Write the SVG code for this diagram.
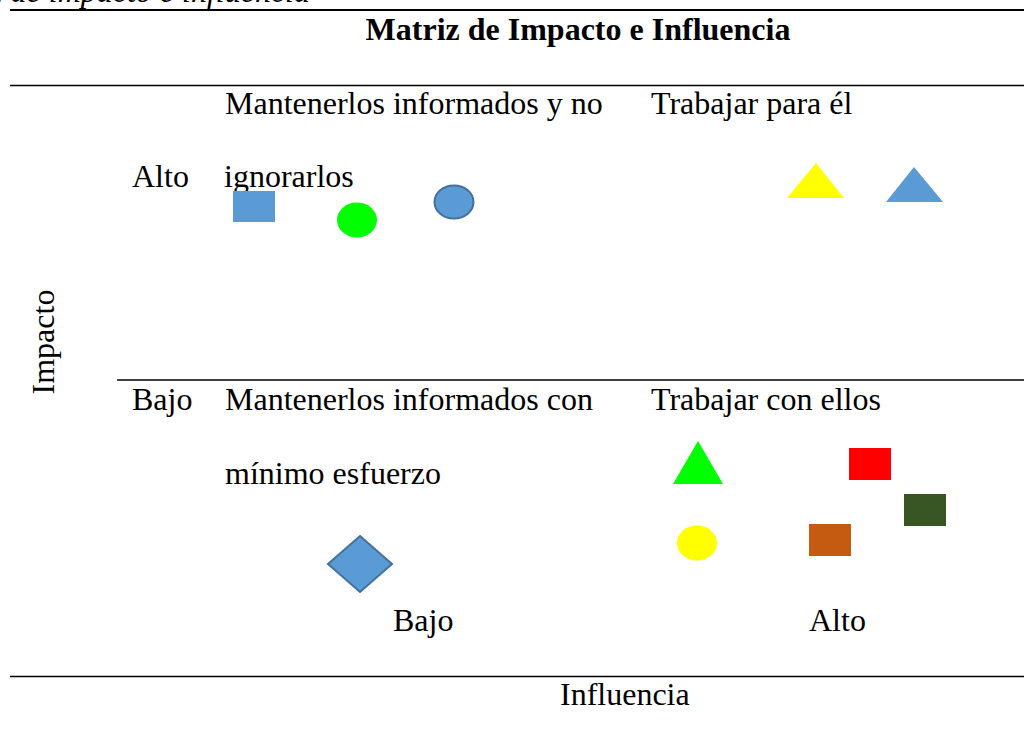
<svg xmlns="http://www.w3.org/2000/svg" width="1024" height="744" viewBox="0 0 1024 744">
<style>
.t{font-family:"Liberation Serif","Times New Roman",serif;font-size:32px;fill:#000}
.b{font-weight:bold}
.i{font-style:italic}
.rule{stroke:#000;fill:none}
.blue{fill:#5B9BD5}
.bs{stroke:#41719C;stroke-width:2}
</style>
<rect width="1024" height="744" fill="#fff"/>
<g id="caption"><text class="t i" x="310" y="2" text-anchor="end">Matriz de impacto e influencia</text></g>
<g id="rules">
<line class="rule" x1="10" y1="10" x2="1024" y2="10" stroke-width="2"/>
<line class="rule" x1="10" y1="85.5" x2="1024" y2="85.5" stroke-width="1.5"/>
<line class="rule" x1="117" y1="380" x2="1024" y2="380" stroke-width="1.5"/>
<line class="rule" x1="10" y1="676.5" x2="1024" y2="676.5" stroke-width="1.5"/>
</g>
<g id="title"><text class="t b" x="578" y="40" text-anchor="middle">Matriz de Impacto e Influencia</text></g>
<g id="labels">
<text class="t" x="225" y="114">Mantenerlos informados y no</text>
<text class="t" x="651" y="114">Trabajar para él</text>
<text class="t" x="132" y="187">Alto</text>
<text class="t" x="224" y="187">ignorarlos</text>
<text class="t" x="54" y="342" text-anchor="middle" transform="rotate(-90 54 342)">Impacto</text>
<text class="t" x="132" y="410">Bajo</text>
<text class="t" x="225" y="410">Mantenerlos informados con</text>
<text class="t" x="651" y="410">Trabajar con ellos</text>
<text class="t" x="225" y="484">mínimo esfuerzo</text>
<text class="t" x="393" y="631">Bajo</text>
<text class="t" x="809" y="631">Alto</text>
<text class="t" x="560" y="705">Influencia</text>
</g>
<g id="shape-blue-square"><rect class="blue" x="233" y="191" width="42" height="31"/></g>
<g id="shape-green-ellipse"><ellipse cx="357" cy="220" rx="20" ry="17.5" fill="#00FF00"/></g>
<g id="shape-blue-ellipse"><ellipse class="blue bs" cx="454" cy="202" rx="19.5" ry="16.5"/></g>
<g id="shape-yellow-triangle"><polygon points="816,163 844,198 787,198" fill="#FFFF00"/></g>
<g id="shape-blue-triangle"><polygon class="blue" points="914,167 943,202 886,202"/></g>
<g id="shape-green-triangle"><polygon points="698,441 723,484 673,484" fill="#00FF00"/></g>
<g id="shape-red-rect"><rect x="849" y="448" width="42" height="32" fill="#FF0000"/></g>
<g id="shape-darkgreen-rect"><rect x="904" y="494" width="42" height="32" fill="#375623"/></g>
<g id="shape-brown-rect"><rect x="809" y="524" width="42" height="32" fill="#C55A11"/></g>
<g id="shape-yellow-ellipse"><ellipse cx="697" cy="543" rx="20" ry="17.5" fill="#FFFF00"/></g>
<g id="shape-diamond"><polygon class="blue bs" points="360,536 392,564 360,592 328,564"/></g>
</svg>
